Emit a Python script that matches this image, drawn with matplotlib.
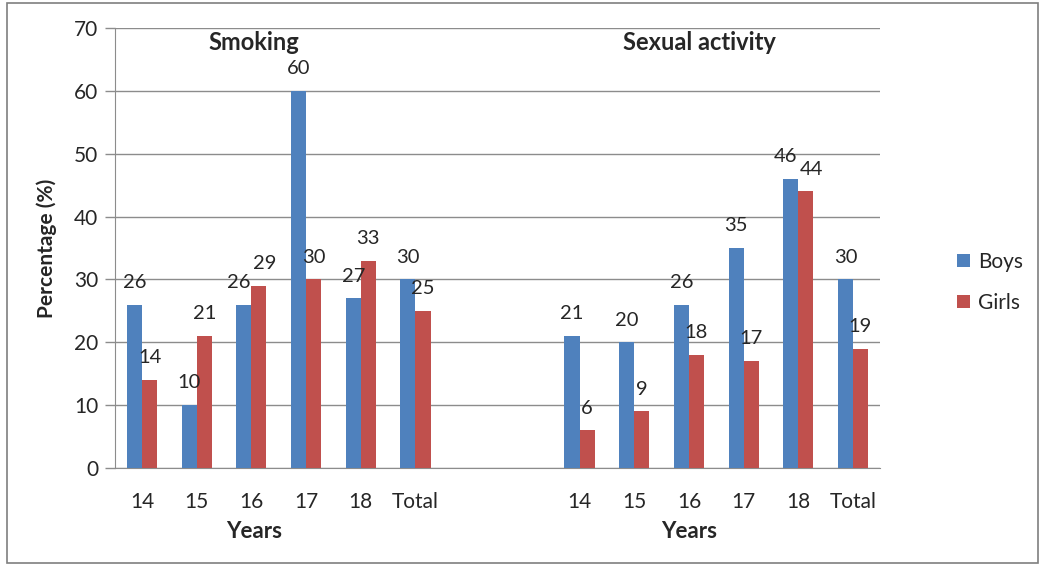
import numpy as np
import matplotlib
matplotlib.use("Agg")
import matplotlib.pyplot as plt
from matplotlib.patches import Rectangle

plt.rcParams['font.family'] = ['Lato', 'DejaVu Sans']

# data
years = ['14', '15', '16', '17', '18', 'Total']
smoking_boys = [26, 10, 26, 60, 27, 30]
smoking_girls = [14, 21, 29, 30, 33, 25]
sexual_boys = [21, 20, 26, 35, 46, 30]
sexual_girls = [6, 9, 18, 17, 44, 19]
panels = ['Smoking', 'Sexual activity']

BLUE = '#4F81BD'
RED = '#C0504D'
GRID = '#8c8c8c'
TXT = '#262626'

fig = plt.figure(figsize=(10.43, 5.65), dpi=100)
ax = fig.add_axes([0.110, 0.1717, 0.734, 0.7787])

# outer chart frame
fig.patches.append(Rectangle((0.007, 0.004), 0.988, 0.99, transform=fig.transFigure,
                             fill=False, edgecolor='#7f7f7f', linewidth=1.2))

pos_smk = np.arange(len(years))
pos_sex = np.arange(len(years)) + len(years) + 2
w = 0.275

groups = [(pos_smk, smoking_boys, smoking_girls), (pos_sex, sexual_boys, sexual_girls)]
for k, (pos, boys, girls) in enumerate(groups):
    b = ax.bar(pos - w / 2, boys, w, color=BLUE, label='Boys' if k == 0 else None, zorder=3)
    g = ax.bar(pos + w / 2, girls, w, color=RED, label='Girls' if k == 0 else None, zorder=3)
    for rb, rg, vb, vg in zip(b, g, boys, girls):
        # push labels apart when the two bars are nearly the same height
        dx = 4 if abs(vb - vg) < 4 else 0
        for r, v, sx in ((rb, vb, -dx), (rg, vg, dx)):
            ax.annotate(str(v), (r.get_x() + r.get_width() / 2, v), xytext=(sx, 16),
                        textcoords='offset points', ha='center', va='center',
                        fontsize=14.5, color=TXT)

ax.set_xlim(-0.5, 13.5)
ax.set_ylim(0, 70)
ax.set_yticks(range(0, 71, 10))
ax.tick_params(axis='y', labelsize=15, colors=GRID, labelcolor=TXT, length=7, width=1, pad=5)
ax.set_xticks(np.concatenate([pos_smk, pos_sex]))
ax.set_xticklabels(years + years)
ax.tick_params(axis='x', labelsize=15, labelcolor=TXT, length=0, pad=17)
ax.grid(axis='y', color=GRID, linewidth=1, zorder=0)
for s in ['top', 'right']:
    ax.spines[s].set_visible(False)
ax.spines['left'].set_color(GRID)
ax.spines['bottom'].set_color(GRID)

ax.set_ylabel('Percentage (%)', fontsize=15, fontweight='bold', color=TXT, labelpad=12)

# panel titles and "Years" labels
trans = matplotlib.transforms.blended_transform_factory(ax.transData, fig.transFigure)
for name, pos in zip(panels, [pos_smk, pos_sex]):
    cx = pos[0] + 2.05 if name == 'Smoking' else pos[0] + 2.2
    ax.text(cx, 0.925, name, transform=trans, ha='center', va='center',
            fontsize=17, fontweight='bold', color=TXT)
    ax.text(pos[0] + (2.05 if name == 'Smoking' else 2.0), 0.06, 'Years', transform=trans,
            ha='center', va='center', fontsize=16, fontweight='bold', color=TXT)

fig.legend(loc='center left', bbox_to_anchor=(0.9, 0.50), frameon=False, fontsize=15,
           handlelength=0.6, handleheight=0.6, handletextpad=0.4, labelspacing=1.0,
           labelcolor=TXT)

fig.savefig('out.png', dpi=100)
